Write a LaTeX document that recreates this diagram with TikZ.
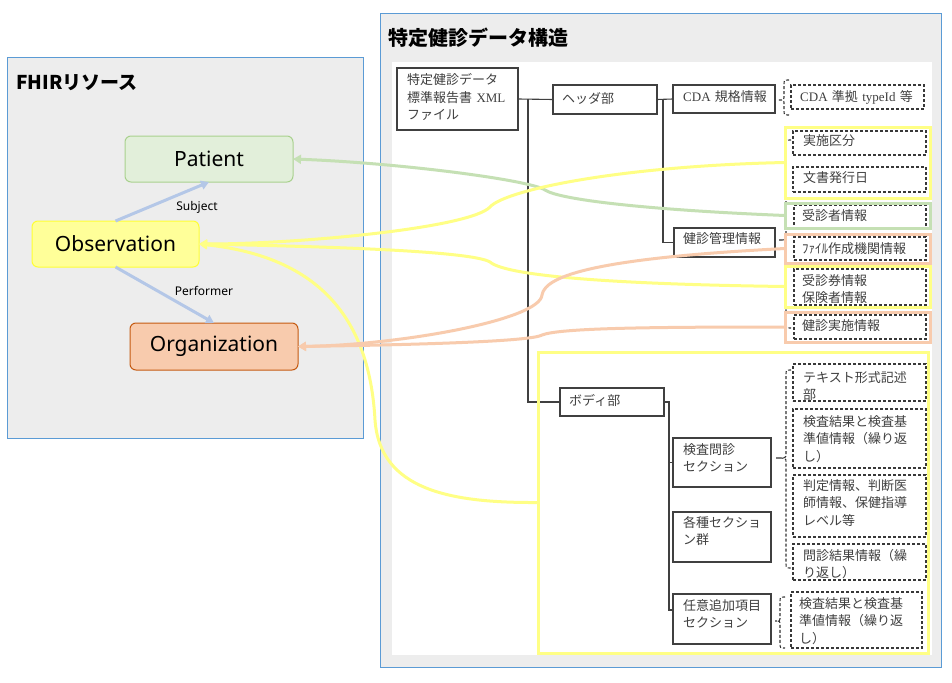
\documentclass[tikz,border=0pt]{standalone}
\usepackage{fontspec}
\setmainfont{Liberation Serif}
\newfontfamily\jpfont{Noto Sans CJK JP}
\newfontfamily\lsans{Noto Sans}
\usetikzlibrary{arrows.meta,calc}
\definecolor{panelbg}{HTML}{EDEDED}
\definecolor{panelbd}{HTML}{5B9BD5}
\definecolor{hlyel}{HTML}{FFFF85}
\definecolor{hlgrn}{HTML}{C5E0B4}
\definecolor{hlorg}{HTML}{F8CBAD}
\definecolor{arrblue}{HTML}{B4C7E7}
\definecolor{patfill}{HTML}{E2EFDA}
\definecolor{patbd}{HTML}{A9D18E}
\definecolor{obsfill}{HTML}{FFFF99}
\definecolor{obsbd}{HTML}{FFFF33}
\definecolor{orgfill}{HTML}{F8CBAD}
\definecolor{orgbd}{HTML}{C55A11}
\definecolor{doctext}{HTML}{404040}
\newcommand\latw[1]{{\rmfamily #1}}
\newcommand\dashbrace[5]{%
  \draw[brace] ({#1+5},#2) .. controls (#1,#2) .. (#1,{#2+5}) -- (#1,{#3-4})
    .. controls (#1,#3) .. ({#1-#5},#3) .. controls (#1,#3) .. (#1,{#3+4})
    -- (#1,{#4-5}) .. controls (#1,#4) .. ({#1+5},#4);}
\begin{document}
\begin{tikzpicture}[x=1pt,y=-1pt,
  panel/.style={draw=panelbd, fill=panelbg, line width=1},
  box/.style={draw=black!75, line width=1.1, inner sep=0, outer sep=0, anchor=north west},
  dbox/.style={draw=black!78, dash pattern=on 3pt off 2pt, line width=1.1, inner sep=0, outer sep=0, anchor=north west},
  hl/.style={line width=3, inner sep=0, outer sep=0, anchor=north west},
  jt/.style={font=\jpfont\fontsize{13}{17.5}\selectfont, text=doctext, inner sep=0, anchor=base west, align=left, text width=#1},
  jt/.default=140,
  tree/.style={draw=black!75, line width=1.1},
  brace/.style={draw=black!80, dash pattern=on 3pt off 2pt, line width=1.1},
  conn/.style={line width=3, -{Triangle[length=8pt,width=9pt]}},
  fnode/.style={rounded corners=6, line width=1, inner sep=0, outer sep=0, font=\lsans\fontsize{21}{25}\selectfont},
  elabel/.style={font=\lsans\fontsize{12}{14}\selectfont, inner sep=0},
  ttl/.style={font=\jpfont\bfseries\fontsize{19}{22}\selectfont, inner sep=0, anchor=base west}
]
\useasboundingbox (0,0) rectangle (952,682);
\fill[white] (0,0) rectangle (952,682);

% panels
\draw[panel] (7,58) rectangle (363,438);
\draw[panel] (380,14) rectangle (941,667);
\fill[white] (392,62) rectangle (932,655);
\node[ttl] (ttlA) at (16,90) {FHIRリソース};
\node[ttl, font=\jpfont\bfseries\fontsize{20}{23}\selectfont] (ttlB) at (388,46) {特定健診データ構造};

% solid boxes
\node[box, minimum width=121, minimum height=62] (root) at (397,68) {};
\node[box, minimum width=104, minimum height=29] (hdr) at (553,85) {};
\node[box, minimum width=102, minimum height=28] (cda) at (673,85) {};
\node[box, minimum width=101, minimum height=29] (kanri) at (674,228) {};
\node[box, minimum width=104, minimum height=28] (body) at (560,388) {};
\node[box, minimum width=98, minimum height=49] (kensa) at (673,438) {};
\node[box, minimum width=98, minimum height=50] (kakushu) at (673,512) {};
\node[box, minimum width=98, minimum height=50] (nini) at (673,594) {};

\node[jt] (troot) at (407,85) {特定健診データ\\標準報告書 \latw{XML}\\ファイル};
\node[jt] (thdr) at (562,104) {ヘッダ部};
\node[jt] (tcda) at (683,102) {\latw{CDA} 規格情報};
\node[jt] (tkanri) at (683,243) {健診管理情報};
\node[jt] (tbody) at (569,405) {ボディ部};
\node[jt] (tkensa) at (683,454) {検査問診\\セクション};
\node[jt] (tkakushu) at (683,527) {各種セクショ\\ン群};
\node[jt] (tnini) at (683,610) {任意追加項目\\セクション};

% tree lines
\draw[tree] (root.east) -- (hdr.west);
\draw[tree] ($(root.east)+(10,0)$) |- (body.west);
\draw[tree] (hdr.east) -- (cda.west);
\draw[tree] ($(hdr.east)+(6,0)$) |- (kanri.west);
\draw[tree] (body.east) -- ++(5,0) |- ([yshift=9]nini.west);
\draw[tree] ($(body.east)+(5,0)$) |- (kensa.west);

% dashed boxes
\node[dbox, minimum width=133, minimum height=24] (d1) at (791,85) {};
\node[dbox, minimum width=133, minimum height=24] (d2) at (793,131) {};
\node[dbox, minimum width=133, minimum height=25] (d3) at (793,167) {};
\node[dbox, minimum width=132, minimum height=24] (d4) at (794,205) {};
\node[dbox, minimum width=132, minimum height=23] (d5) at (794,237) {};
\node[dbox, minimum width=132, minimum height=36] (d6) at (794,269) {};
\node[dbox, minimum width=132, minimum height=24] (d7) at (794,315) {};
\node[dbox, minimum width=133, minimum height=37] (d8) at (793,364) {};
\node[dbox, minimum width=133, minimum height=59] (d9) at (793,409) {};
\node[dbox, minimum width=133, minimum height=62] (d10) at (793,475) {};
\node[dbox, minimum width=133, minimum height=36] (d11) at (793,544) {};
\node[dbox, minimum width=131, minimum height=56] (d12) at (791,592) {};

\node[jt] (td1) at (800,102) {\latw{CDA} 準拠 \latw{typeId} 等};
\node[jt] (td2) at (803,146) {実施区分};
\node[jt] (td3) at (803,182) {文書発行日};
\node[jt] (td4) at (802,220) {受診者情報};
\node[jt] (td5) at (802,253) {ﾌｧｲﾙ作成機関情報};
\node[jt] (td6) at (802,285) {受診券情報\\保険者情報};
\node[jt] (td7) at (802,330) {健診実施情報};
\node[jt] (td8) at (803,382) {テキスト形式記述\\部};
\node[jt] (td9) at (803,426) {検査結果と検査基\\準値情報（繰り返\\し）};
\node[jt] (td10) at (803,490) {判定情報、判断医\\師情報、保健指導\\レベル等};
\node[jt] (td11) at (803,560) {問診結果情報（繰\\り返し）};
\node[jt] (td12) at (799,608) {検査結果と検査基\\準値情報（繰り返\\し）};

% braces
\dashbrace{784}{80}{100}{115}{6}
\dashbrace{786}{140}{240}{328}{7}
\dashbrace{786}{370}{458}{568}{10}
\dashbrace{780}{597}{621}{648}{5}

% highlight frames
\node[hl, draw=hlyel, minimum width=145, minimum height=71] (hlA) at (785,127) {};
\node[hl, draw=hlgrn, minimum width=145, minimum height=25] (hlG) at (785,203) {};
\node[hl, draw=hlorg, minimum width=145, minimum height=29] (hlO1) at (785,234) {};
\node[hl, draw=hlyel, minimum width=145, minimum height=41] (hlY2) at (785,266) {};
\node[hl, draw=hlorg, minimum width=145, minimum height=30] (hlO2) at (785,312) {};
\node[hl, draw=hlyel, minimum width=390, minimum height=301] (hlB) at (538,352) {};

% FHIR resources
\node[fnode, draw=patbd, fill=patfill, minimum width=168, minimum height=46] (pat) at (209,159) {Patient};
\node[fnode, draw=obsbd, fill=obsfill, minimum width=167, minimum height=46] (obs) at (115.5,244) {Observation};
\node[fnode, draw=orgbd, fill=orgfill, minimum width=168, minimum height=47] (org) at (214,346.5) {Organization};

\draw[conn, draw=arrblue] (obs.north) -- (pat.south);
\draw[conn, draw=arrblue] (obs.south) -- (org.north);
\node[elabel] (subj) at (197,207) {Subject};
\node[elabel] (perf) at (204,291) {Performer};

% mapping connectors
\draw[conn, draw=hlgrn] (hlG.west) .. controls (650,210) and (560,200) .. (545,190)
   .. controls (530,180) and (400,163) .. (pat.east);
\draw[conn, draw=hlyel] (hlA.west) .. controls (620,166) and (505,190) .. (490,207)
   .. controls (470,228) and (300,244) .. (obs.east);
\draw[conn, draw=hlyel] (hlY2.west) .. controls (600,284) and (505,275) .. (490,262)
   .. controls (470,250) and (300,246) .. (obs.east);
\draw[conn, draw=hlyel] (hlB.west) .. controls (450,503) and (380,490) .. (375,420)
   .. controls (370,330) and (330,258) .. (obs.east);
\draw[conn, draw=hlorg] (hlO1.west) .. controls (600,258) and (545,275) .. (542,295)
   .. controls (540,320) and (400,345) .. (org.east);
\draw[conn, draw=hlorg] (hlO2.west) .. controls (650,327) and (560,328) .. (542,335)
   .. controls (530,342) and (400,345) .. (org.east);
\end{tikzpicture}
\end{document}
